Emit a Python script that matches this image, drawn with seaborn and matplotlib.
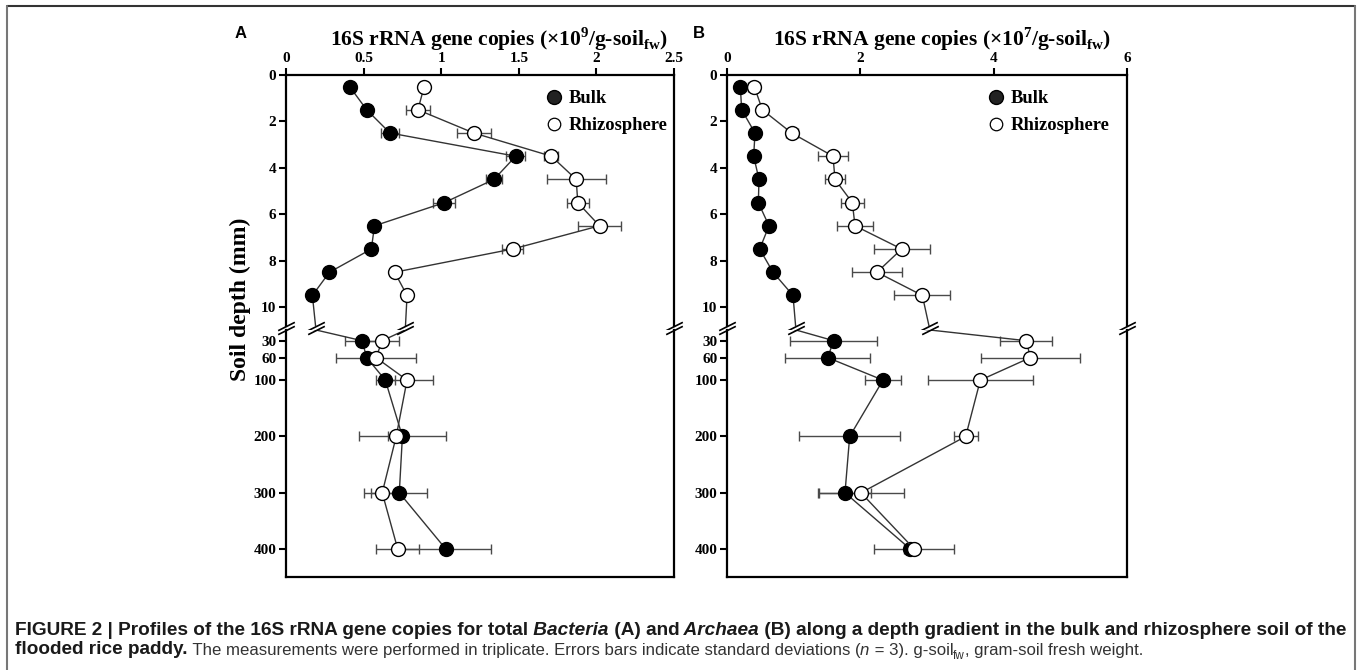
import numpy as np
import matplotlib
matplotlib.use("Agg")
import matplotlib.pyplot as plt
from matplotlib.lines import Line2D
import seaborn as sns

# depth of each sample (mm); upper block 0-10 mm, lower block 30-400 mm
depth = [0.5, 1.5, 2.5, 3.5, 4.5, 5.5, 6.5, 7.5, 8.5, 9.5, 30, 60, 100, 200, 300, 400]

# A: Bacteria (x10^9 / g-soil fw)
bulk_a = [0.41, 0.52, 0.67, 1.48, 1.34, 1.02, 0.57, 0.55, 0.28, 0.17, 0.49, 0.52, 0.64, 0.75, 0.73, 1.03]
bulk_a_sd = [0.02, 0.02, 0.06, 0.06, 0.05, 0.07, 0.03, 0.03, 0.02, 0.02, 0.11, 0.03, 0.06, 0.28, 0.18, 0.29]
rhizo_a = [0.89, 0.85, 1.21, 1.71, 1.87, 1.88, 2.02, 1.46, 0.70, 0.78, 0.62, 0.58, 0.78, 0.71, 0.62, 0.72]
rhizo_a_sd = [0.02, 0.08, 0.11, 0.045, 0.19, 0.07, 0.14, 0.07, 0.02, 0.02, 0.11, 0.26, 0.17, 0.05, 0.12, 0.14]

# B: Archaea (x10^7 / g-soil fw)
bulk_b = [0.20, 0.22, 0.42, 0.40, 0.48, 0.47, 0.63, 0.49, 0.69, 0.99, 1.60, 1.51, 2.34, 1.84, 1.77, 2.75]
bulk_b_sd = [0.03, 0.03, 0.03, 0.03, 0.03, 0.03, 0.03, 0.03, 0.03, 0.08, 0.65, 0.64, 0.27, 0.76, 0.39, 0.10]
rhizo_b = [0.41, 0.53, 0.97, 1.59, 1.62, 1.88, 1.92, 2.62, 2.25, 2.93, 4.49, 4.55, 3.80, 3.58, 2.01, 2.81]
rhizo_b_sd = [0.09, 0.03, 0.09, 0.23, 0.155, 0.17, 0.275, 0.42, 0.375, 0.42, 0.39, 0.745, 0.79, 0.18, 0.64, 0.60]

xticks_a = [0, 0.5, 1, 1.5, 2, 2.5]
xticklabels_a = ["0", "0.5", "1", "1.5", "2", "2.5"]
xticks_b = [0, 2, 4, 6]
xticklabels_b = ["0", "2", "4", "6"]
yticks_top = [0, 2, 4, 6, 8, 10]
yticks_bottom = [30, 60, 100, 200, 300, 400]

sns.set_theme(style="ticks", rc={"axes.edgecolor": "black", "xtick.color": "black",
                                 "ytick.color": "black", "text.color": "black"})
plt.rcParams["font.family"] = ["Liberation Serif", "DejaVu Serif"]
plt.rcParams["font.weight"] = "bold"

W, H = 1357, 670
fig = plt.figure(figsize=(W / 100, H / 100), dpi=100)


def px_axes(x0, x1, y0, y1):
    return fig.add_axes([x0 / W, 1 - y1 / H, (x1 - x0) / W, (y1 - y0) / H])


UP_END = 10.8
LOW_START = 11.0
brk = dict(marker=[(-1, -0.5), (1, 0.5)], markersize=12, linestyle="none",
           color="black", mec="black", mew=1.2, clip_on=False, zorder=5)

panels = [
    dict(x0=286, x1=674, xmax=2.5, xt=xticks_a, xtl=xticklabels_a,
         bulk=bulk_a, bulk_sd=bulk_a_sd, rhizo=rhizo_a, rhizo_sd=rhizo_a_sd,
         letter="A", lx=241, tx=499, exp="9", legx=(545 - 286) / 388),
    dict(x0=727, x1=1127, xmax=6, xt=xticks_b, xtl=xticklabels_b,
         bulk=bulk_b, bulk_sd=bulk_b_sd, rhizo=rhizo_b, rhizo_sd=rhizo_b_sd,
         letter="B", lx=699, tx=942, exp="7", legx=(987 - 727) / 400),
]

i30 = depth.index(30)
upper_idx = [i for i, d in enumerate(depth) if d <= 10]
lower_idx = [i for i, d in enumerate(depth) if d >= 30]
first_ax = None
for p in panels:
    ax_u = px_axes(p["x0"], p["x1"], 75, 325.6)
    ax_l = px_axes(p["x0"], p["x1"], 330, 576.7)
    if first_ax is None:
        first_ax = ax_u
    for ax, idx in ((ax_u, upper_idx), (ax_l, lower_idx)):
        for vals, sd, face in [(p["bulk"], p["bulk_sd"], "black"), (p["rhizo"], p["rhizo_sd"], "white")]:
            ax.errorbar([vals[i] for i in idx], [depth[i] for i in idx], xerr=[sd[i] for i in idx],
                        fmt="none", ecolor="#4a4a4a", elinewidth=1, capsize=3.5, capthick=1, zorder=2)
            sns.lineplot(x=vals, y=depth, orient="y", estimator=None, color="#333333", lw=1,
                         marker="o", markevery=idx, markersize=10, markerfacecolor=face,
                         markeredgecolor="black", markeredgewidth=1, ax=ax, zorder=3)
        ax.set_xlim(0, p["xmax"])
        ax.set_xlabel("")
        ax.set_ylabel("")
        for s in ax.spines.values():
            s.set_linewidth(1.6)
        ax.tick_params(direction="out", length=5, width=1.5, labelsize=11, pad=2)

    ax_u.set_ylim(UP_END, 0)
    ax_l.set_ylim(449, LOW_START)
    ax_u.spines["bottom"].set_visible(False)
    ax_l.spines["top"].set_visible(False)
    ax_u.xaxis.tick_top()
    ax_u.set_xticks(p["xt"])
    ax_u.set_xticklabels(p["xtl"], fontweight="bold")
    ax_u.set_yticks(yticks_top)
    ax_u.set_yticklabels([str(v) for v in yticks_top], fontweight="bold")
    ax_l.set_xticks([])
    ax_l.set_yticks(yticks_bottom)
    ax_l.set_yticklabels([str(v) for v in yticks_bottom], fontweight="bold")

    # axis break marks on both spines
    ax_u.plot([0, 1], [0, 0], transform=ax_u.transAxes, **brk)
    ax_l.plot([0, 1], [1, 1], transform=ax_l.transAxes, **brk)
    # break marks on the data lines where they cross the gap
    for vals in (p["bulk"], p["rhizo"]):
        for ax, yb in ((ax_u, UP_END), (ax_l, LOW_START)):
            xb = np.interp(yb, [depth[i30 - 1], depth[i30]], [vals[i30 - 1], vals[i30]])
            ax.plot([xb], [yb], **brk)

    handles = [Line2D([], [], ls="none", marker="o", ms=10, mfc="#222222", mec="black"),
               Line2D([], [], ls="none", marker="o", ms=9, mfc="white", mec="black", mew=0.9)]
    ax_u.legend(handles, ["Bulk", "Rhizosphere"], loc="upper left",
                bbox_to_anchor=(p["legx"], 0.94), frameon=False, borderpad=0,
                borderaxespad=0, handlelength=1, handletextpad=0.3, labelspacing=0.55,
                prop={"family": "Liberation Serif", "weight": "bold", "size": 13.3})

    fig.text(p["lx"] / W, 1 - 33 / H, p["letter"], family="Liberation Sans",
             weight="bold", fontsize=12, ha="center", va="center")
    fig.text(p["tx"] / W, 1 - 39 / H,
             "16S rRNA gene copies (×10$^{\\mathregular{" + p["exp"] + "}}$/g-soil$_{\\mathregular{fw}}$)",
             fontsize=15.5, weight="bold", ha="center", va="center")

fig.text(240 / W, 1 - 299 / H, "Soil depth (mm)", rotation=90, fontsize=17,
         weight="bold", ha="center", va="center")

# frame round the figure
for xs, ys, col in [([7, 1355], [6, 6], "#333333"), ([7, 7], [6, 670], "#777777"),
                    ([1355, 1355], [6, 670], "#777777")]:
    fig.add_artist(Line2D([x / W for x in xs], [1 - y / H for y in ys],
                          transform=fig.transFigure, color=col, lw=1.5))

# caption, drawn piece by piece on a shared baseline
cap = dict(family=["Liberation Sans", "DejaVu Sans"])


def caption_line(y, pieces):
    first = None
    prev = None
    for text, kw in pieces:
        style = dict(cap)
        style.update(kw)
        if first is None:
            prev = first_ax.annotate(text, xy=(15 / W, 1 - y / H), xycoords="figure fraction",
                                     va="baseline", ha="left", annotation_clip=False, **style)
            first = prev
        else:
            off = style.pop("dy", 0)
            prev = first_ax.annotate(text, xy=(1, 0), xycoords=(prev, first),
                                     xytext=(0, off), textcoords="offset points",
                                     va="bottom", ha="left", annotation_clip=False, **style)


B = dict(weight="bold", style="normal", color="#1a1a1a", fontsize=13.65)
BI = dict(weight="bold", style="italic", color="#1a1a1a", fontsize=13.65)
R = dict(weight="normal", style="normal", color="#333333", fontsize=12.05)
RI = dict(weight="normal", style="italic", color="#333333", fontsize=12.05)

caption_line(635, [
    ("FIGURE 2 | Profiles of the 16S rRNA gene copies for total", B),
    (" Bacteria", BI),
    (" (A) and", B),
    (" Archaea", BI),
    (" (B) along a depth gradient in the bulk and rhizosphere soil of the", B),
])
caption_line(654, [
    ("flooded rice paddy.", B),
    (" The measurements were performed in triplicate. Errors bars indicate standard deviations (", R),
    ("n", RI),
    (" = 3). g-soil", R),
    ("fw", dict(R, fontsize=8.5, dy=-3)),
    (", gram-soil fresh weight.", R),
])

fig.savefig("out.png", dpi=100)
